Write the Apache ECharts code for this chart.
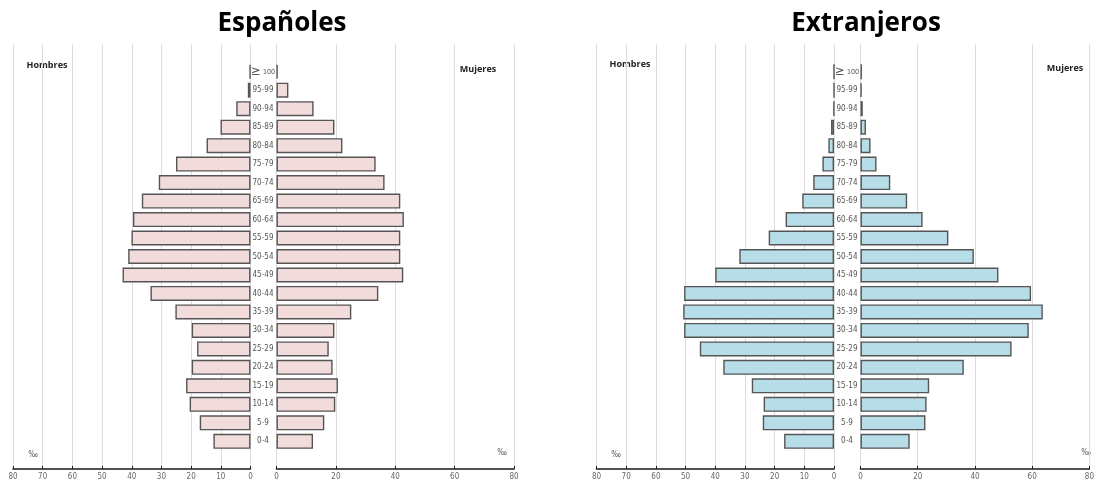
<!DOCTYPE html>
<html>
<head>
<meta charset="utf-8">
<script src="https://cdn.jsdelivr.net/npm/echarts@6/dist/echarts.min.js"></script>
<style>
html,body{margin:0;padding:0;background:#fff;}
#chart{width:1097px;height:481px;}
</style>
</head>
<body>
<div id="chart"></div>
<script>
const ages = ['≥ 100','95-99','90-94','85-89','80-84','75-79','70-74','65-69','60-64','55-59','50-54','45-49','40-44','35-39','30-34','25-29','20-24','15-19','10-14','5-9','0-4'];
const espHombres = [0.3, 0.9, 4.8, 10.1, 14.8, 25.1, 30.9, 36.6, 39.6, 40.1, 41.2, 43.1, 33.7, 25.3, 19.8, 18.0, 19.8, 21.7, 20.5, 17.1, 12.5];
const espMujeres = [0.4, 4.0, 12.5, 19.5, 22.2, 33.4, 36.4, 41.7, 42.9, 41.7, 41.7, 42.7, 34.3, 25.2, 19.5, 17.6, 18.9, 20.7, 19.8, 16.1, 12.3];
const extHombres = [0, 0, 0.1, 1.0, 1.9, 3.9, 7.0, 10.7, 16.3, 22.0, 31.9, 40.0, 50.5, 50.8, 50.5, 45.2, 37.3, 27.7, 23.7, 24.0, 16.8];
const extMujeres = [0.5, 0.4, 0.8, 1.9, 3.5, 5.6, 10.4, 16.3, 21.7, 30.7, 39.6, 48.2, 59.6, 63.7, 58.8, 52.8, 36.1, 24.0, 23.1, 22.7, 17.2];
const titles = ['Españoles', 'Extranjeros'];
const sideLabels = ['Hombres', 'Mujeres'];
const unitLabel = '‰';

const cats = [''].concat(ages, ['']);
const pad = a => [null].concat(a, [null]);

const GRID_TOP = 44;
const GRID_H = 23 * 18.6;
const narrow = '"Liberation Sans Narrow","DejaVu Sans Condensed",Arial,sans-serif';
const bold = '"Open Sans", Lato, sans-serif';

const grids = [
  {left: 13, top: GRID_TOP, width: 237.5, height: GRID_H},
  {left: 276.5, top: GRID_TOP, width: 237.5, height: GRID_H},
  {left: 596.5, top: GRID_TOP, width: 237.5, height: GRID_H},
  {left: 860.5, top: GRID_TOP, width: 237.5, height: GRID_H}
];

function xAx(i, inverse, interval) {
  return {
    type: 'value', gridIndex: i, min: 0, max: 80, interval: interval, inverse: inverse,
    axisLine: {show: true, lineStyle: {color: '#1a1a1a', width: 1.6}},
    axisTick: {show: true, inside: true, length: 3, lineStyle: {color: '#1a1a1a', width: 1}},
    axisLabel: {fontSize: 8, color: '#666', fontFamily: narrow, margin: 4, showMinLabel: true, showMaxLabel: true},
    splitLine: {show: true, lineStyle: {color: '#dcdcdc', width: 1}}
  };
}
function yAx(i, showLabels) {
  return {
    type: 'category', gridIndex: i, data: cats, inverse: true,
    axisLine: {show: false}, axisTick: {show: false},
    axisLabel: showLabels ? {
      show: true, interval: 0, align: 'center', margin: 13.5,
      fontSize: 8, color: '#555', fontFamily: narrow,
      formatter: v => v === '≥ 100' ? '{ge|≥}{n| 100}' : v,
      rich: {ge: {fontSize: 13, color: '#555', fontFamily: narrow}, n: {fontSize: 7, color: '#555', fontFamily: narrow}}
    } : {show: false},
    splitLine: {show: false}
  };
}
function bar(i, data, color) {
  return {
    type: 'bar', xAxisIndex: i, yAxisIndex: i, data: pad(data),
    barWidth: 15, silent: true,
    itemStyle: {color: color, borderColor: '#555', borderWidth: 1.4}
  };
}

const pink = '#f2dcdb';
const blue = '#b7dde8';

const chart = echarts.init(document.getElementById('chart'), null, {renderer: 'canvas'});

function txt(x, y, text, style) {
  return {type: 'text', x: x, y: y, style: Object.assign({text: text, align: 'center', verticalAlign: 'middle'}, style)};
}
const titleStyle = {font: 'bold 26px ' + bold, fill: '#000'};
const sideStyle = {font: 'bold 9px ' + bold, fill: '#222'};
const unitStyle = {font: '8px ' + narrow, fill: '#555'};

chart.setOption({
  animation: false,
  grid: grids,
  xAxis: [xAx(0, true, 10), xAx(1, false, 20), xAx(2, true, 10), xAx(3, false, 20)],
  yAxis: [yAx(0, false), yAx(1, true), yAx(2, false), yAx(3, true)],
  series: [
    bar(0, espHombres, pink), bar(1, espMujeres, pink),
    bar(2, extHombres, blue), bar(3, extMujeres, blue)
  ],
  graphic: [
    txt(282, 24, titles[0], titleStyle),
    txt(866, 24, titles[1], titleStyle),
    txt(47, 65, sideLabels[0], sideStyle),
    txt(478, 69, sideLabels[1], sideStyle),
    txt(630, 64, sideLabels[0], sideStyle),
    txt(1065, 68, sideLabels[1], sideStyle),
    txt(33, 455, unitLabel, unitStyle),
    txt(502, 453, unitLabel, unitStyle),
    txt(616, 455, unitLabel, unitStyle),
    txt(1086, 453, unitLabel, unitStyle)
  ]
});
</script>
</body>
</html>
